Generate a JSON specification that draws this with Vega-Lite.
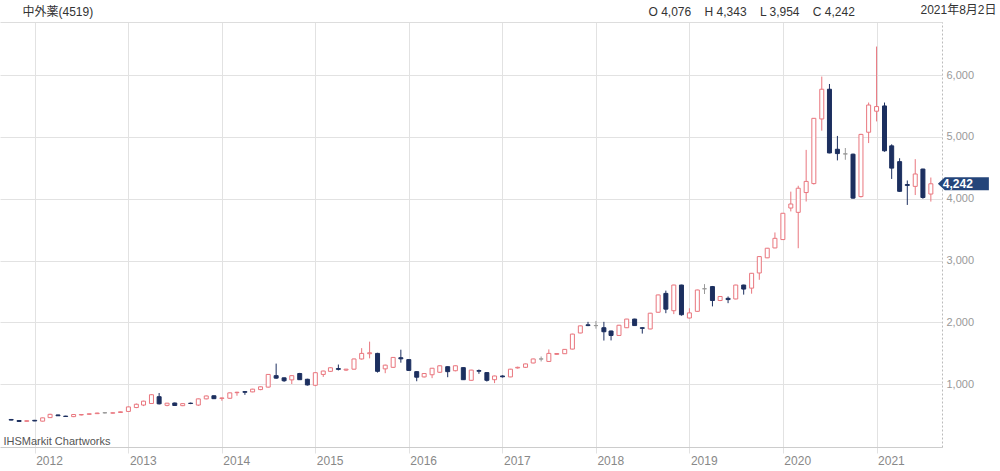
{
  "$schema": "https://vega.github.io/schema/vega-lite/v6.json",
  "width": 942,
  "height": 425,
  "autosize": {"type": "none"},
  "padding": {"left": 0, "top": 22, "right": 58, "bottom": 24},
  "background": "#ffffff",
  "config": {
    "view": {"stroke": null},
    "font": "Liberation Sans, Noto Sans CJK JP, sans-serif"
  },
  "data": {
    "values": [
      {"date": "2011-10-01", "open": 432, "high": 440, "low": 418, "close": 422},
      {"date": "2011-11-01", "open": 415, "high": 420, "low": 395, "close": 400},
      {"date": "2011-12-01", "open": 402, "high": 415, "low": 398, "close": 412},
      {"date": "2012-01-01", "open": 418, "high": 425, "low": 405, "close": 408},
      {"date": "2012-02-01", "open": 405, "high": 462, "low": 400, "close": 458},
      {"date": "2012-03-01", "open": 462, "high": 525, "low": 455, "close": 515},
      {"date": "2012-04-01", "open": 505, "high": 510, "low": 488, "close": 492},
      {"date": "2012-05-01", "open": 486, "high": 492, "low": 474, "close": 480},
      {"date": "2012-06-01", "open": 478, "high": 518, "low": 470, "close": 512},
      {"date": "2012-07-01", "open": 505, "high": 515, "low": 498, "close": 512},
      {"date": "2012-08-01", "open": 515, "high": 528, "low": 510, "close": 524},
      {"date": "2012-09-01", "open": 526, "high": 540, "low": 520, "close": 536},
      {"date": "2012-10-01", "open": 540, "high": 552, "low": 528, "close": 540},
      {"date": "2012-11-01", "open": 534, "high": 545, "low": 528, "close": 540},
      {"date": "2012-12-01", "open": 545, "high": 560, "low": 540, "close": 556},
      {"date": "2013-01-01", "open": 562, "high": 640, "low": 558, "close": 635},
      {"date": "2013-02-01", "open": 625, "high": 690, "low": 615, "close": 678},
      {"date": "2013-03-01", "open": 665, "high": 735, "low": 648, "close": 728},
      {"date": "2013-04-01", "open": 690, "high": 840, "low": 685, "close": 832},
      {"date": "2013-05-01", "open": 800, "high": 860, "low": 675, "close": 685},
      {"date": "2013-06-01", "open": 660, "high": 700, "low": 645, "close": 695},
      {"date": "2013-07-01", "open": 698, "high": 705, "low": 650, "close": 658},
      {"date": "2013-08-01", "open": 655, "high": 695, "low": 648, "close": 688},
      {"date": "2013-09-01", "open": 695, "high": 705, "low": 680, "close": 690},
      {"date": "2013-10-01", "open": 665, "high": 770, "low": 650, "close": 765},
      {"date": "2013-11-01", "open": 765, "high": 818, "low": 758, "close": 812},
      {"date": "2013-12-01", "open": 815, "high": 820, "low": 762, "close": 768},
      {"date": "2014-01-01", "open": 772, "high": 785, "low": 735, "close": 780},
      {"date": "2014-02-01", "open": 775, "high": 868, "low": 765, "close": 862},
      {"date": "2014-03-01", "open": 865, "high": 880, "low": 815, "close": 872},
      {"date": "2014-04-01", "open": 882, "high": 888, "low": 830, "close": 872},
      {"date": "2014-05-01", "open": 878, "high": 928, "low": 872, "close": 922},
      {"date": "2014-06-01", "open": 915, "high": 965, "low": 905, "close": 960},
      {"date": "2014-07-01", "open": 955, "high": 1165, "low": 948, "close": 1160},
      {"date": "2014-08-01", "open": 1140, "high": 1335, "low": 1090, "close": 1100},
      {"date": "2014-09-01", "open": 1105, "high": 1110, "low": 1040, "close": 1058},
      {"date": "2014-10-01", "open": 1072, "high": 1145, "low": 1005, "close": 1140},
      {"date": "2014-11-01", "open": 1175, "high": 1185, "low": 1070, "close": 1075},
      {"date": "2014-12-01", "open": 1082, "high": 1090, "low": 980, "close": 990},
      {"date": "2015-01-01", "open": 985, "high": 1195, "low": 970, "close": 1188},
      {"date": "2015-02-01", "open": 1160, "high": 1220, "low": 1120, "close": 1215},
      {"date": "2015-03-01", "open": 1210, "high": 1275, "low": 1200, "close": 1268},
      {"date": "2015-04-01", "open": 1255, "high": 1320, "low": 1225, "close": 1242},
      {"date": "2015-05-01", "open": 1230, "high": 1250, "low": 1215, "close": 1245},
      {"date": "2015-06-01", "open": 1245, "high": 1415, "low": 1240, "close": 1410},
      {"date": "2015-07-01", "open": 1410, "high": 1585, "low": 1400, "close": 1500},
      {"date": "2015-08-01", "open": 1495, "high": 1690, "low": 1420, "close": 1510},
      {"date": "2015-09-01", "open": 1500, "high": 1510, "low": 1190, "close": 1210},
      {"date": "2015-10-01", "open": 1250, "high": 1318, "low": 1180, "close": 1310},
      {"date": "2015-11-01", "open": 1275, "high": 1440, "low": 1265, "close": 1435},
      {"date": "2015-12-01", "open": 1430, "high": 1560, "low": 1350, "close": 1412},
      {"date": "2016-01-01", "open": 1400, "high": 1405, "low": 1220, "close": 1225},
      {"date": "2016-02-01", "open": 1205, "high": 1210, "low": 1050, "close": 1115},
      {"date": "2016-03-01", "open": 1120, "high": 1180, "low": 1110, "close": 1175},
      {"date": "2016-04-01", "open": 1155, "high": 1265, "low": 1100, "close": 1260},
      {"date": "2016-05-01", "open": 1195, "high": 1305, "low": 1185, "close": 1300},
      {"date": "2016-06-01", "open": 1285, "high": 1290, "low": 1115, "close": 1205},
      {"date": "2016-07-01", "open": 1220, "high": 1305, "low": 1210, "close": 1300},
      {"date": "2016-08-01", "open": 1270, "high": 1275, "low": 1070, "close": 1075},
      {"date": "2016-09-01", "open": 1065, "high": 1235, "low": 1060, "close": 1230},
      {"date": "2016-10-01", "open": 1222, "high": 1240, "low": 1170, "close": 1212},
      {"date": "2016-11-01", "open": 1190, "high": 1195, "low": 1045, "close": 1065},
      {"date": "2016-12-01", "open": 1075, "high": 1140, "low": 1020, "close": 1135},
      {"date": "2017-01-01", "open": 1135, "high": 1145, "low": 1110, "close": 1122},
      {"date": "2017-02-01", "open": 1120, "high": 1250, "low": 1115, "close": 1245},
      {"date": "2017-03-01", "open": 1265, "high": 1285, "low": 1255, "close": 1275},
      {"date": "2017-04-01", "open": 1275, "high": 1335, "low": 1265, "close": 1330},
      {"date": "2017-05-01", "open": 1345, "high": 1415, "low": 1340, "close": 1410},
      {"date": "2017-06-01", "open": 1410, "high": 1450, "low": 1370, "close": 1410},
      {"date": "2017-07-01", "open": 1370, "high": 1565, "low": 1365, "close": 1500},
      {"date": "2017-08-01", "open": 1485, "high": 1505, "low": 1478, "close": 1498},
      {"date": "2017-09-01", "open": 1495, "high": 1570, "low": 1490, "close": 1565},
      {"date": "2017-10-01", "open": 1570, "high": 1818, "low": 1565, "close": 1812},
      {"date": "2017-11-01", "open": 1830, "high": 1950, "low": 1825, "close": 1945},
      {"date": "2017-12-01", "open": 1962, "high": 2010, "low": 1940, "close": 1950},
      {"date": "2018-01-01", "open": 1950, "high": 2025, "low": 1900, "close": 1950},
      {"date": "2018-02-01", "open": 1915, "high": 2010, "low": 1708, "close": 1850},
      {"date": "2018-03-01", "open": 1862, "high": 1868, "low": 1710, "close": 1790},
      {"date": "2018-04-01", "open": 1790, "high": 1962, "low": 1785, "close": 1955},
      {"date": "2018-05-01", "open": 1915, "high": 2058, "low": 1910, "close": 2055},
      {"date": "2018-06-01", "open": 2055, "high": 2060, "low": 1945, "close": 1950},
      {"date": "2018-07-01", "open": 1915, "high": 1920, "low": 1820, "close": 1905},
      {"date": "2018-08-01", "open": 1895, "high": 2155, "low": 1890, "close": 2150},
      {"date": "2018-09-01", "open": 2165, "high": 2450, "low": 2160, "close": 2445},
      {"date": "2018-10-01", "open": 2470, "high": 2515, "low": 2150, "close": 2215},
      {"date": "2018-11-01", "open": 2190, "high": 2610, "low": 2135, "close": 2605},
      {"date": "2018-12-01", "open": 2605, "high": 2610, "low": 2110, "close": 2125},
      {"date": "2019-01-01", "open": 2072, "high": 2230, "low": 2065, "close": 2155},
      {"date": "2019-02-01", "open": 2180, "high": 2530, "low": 2175, "close": 2525},
      {"date": "2019-03-01", "open": 2545, "high": 2620, "low": 2460, "close": 2545},
      {"date": "2019-04-01", "open": 2580, "high": 2590, "low": 2260, "close": 2355},
      {"date": "2019-05-01", "open": 2355, "high": 2425, "low": 2345, "close": 2420},
      {"date": "2019-06-01", "open": 2390, "high": 2420, "low": 2312, "close": 2370},
      {"date": "2019-07-01", "open": 2380, "high": 2610, "low": 2375, "close": 2605},
      {"date": "2019-08-01", "open": 2605, "high": 2610, "low": 2450, "close": 2540},
      {"date": "2019-09-01", "open": 2555, "high": 2800, "low": 2465, "close": 2795},
      {"date": "2019-10-01", "open": 2800, "high": 3070, "low": 2690, "close": 3065},
      {"date": "2019-11-01", "open": 3045, "high": 3205, "low": 3040, "close": 3200},
      {"date": "2019-12-01", "open": 3205, "high": 3455, "low": 3200, "close": 3360},
      {"date": "2020-01-01", "open": 3340, "high": 3770, "low": 3335, "close": 3765},
      {"date": "2020-02-01", "open": 3850, "high": 4115, "low": 3795, "close": 3915},
      {"date": "2020-03-01", "open": 3780, "high": 4210, "low": 3200, "close": 4170},
      {"date": "2020-04-01", "open": 4100, "high": 4790, "low": 3955, "close": 4280},
      {"date": "2020-05-01", "open": 4245, "high": 5305, "low": 4230, "close": 5300},
      {"date": "2020-06-01", "open": 5290, "high": 5975, "low": 5100, "close": 5770},
      {"date": "2020-07-01", "open": 5770, "high": 5855, "low": 4735, "close": 4740},
      {"date": "2020-08-01", "open": 4800, "high": 5015, "low": 4620, "close": 4730},
      {"date": "2020-09-01", "open": 4725, "high": 4820, "low": 4630, "close": 4725},
      {"date": "2020-10-01", "open": 4720, "high": 4730, "low": 4000, "close": 4010},
      {"date": "2020-11-01", "open": 4035, "high": 5050, "low": 4020, "close": 5040},
      {"date": "2020-12-01", "open": 5075, "high": 5555, "low": 4900, "close": 5515},
      {"date": "2021-01-01", "open": 5415, "high": 6460, "low": 5250, "close": 5490},
      {"date": "2021-02-01", "open": 5500, "high": 5555, "low": 4760, "close": 4775},
      {"date": "2021-03-01", "open": 4855, "high": 4880, "low": 4320, "close": 4495},
      {"date": "2021-04-01", "open": 4600, "high": 4655, "low": 4110, "close": 4120},
      {"date": "2021-05-01", "open": 4230, "high": 4295, "low": 3900, "close": 4215},
      {"date": "2021-06-01", "open": 4200, "high": 4640, "low": 4060, "close": 4400},
      {"date": "2021-07-01", "open": 4480, "high": 4485, "low": 4000, "close": 4020},
      {"date": "2021-08-01", "open": 4076, "high": 4343, "low": 3954, "close": 4242}
    ]
  },
  "resolve": {"axis": {"x": "independent", "y": "independent"}},
  "layer": [
    {
      "mark": {"type": "rule", "strokeWidth": 1},
      "encoding": {
        "x": {
          "field": "date",
          "type": "temporal",
          "scale": {
            "type": "utc",
            "domain": [
              {"year": 2011, "month": 9, "date": 7, "utc": true},
              {"year": 2021, "month": 8, "date": 25, "utc": true}
            ]
          },
          "axis": {
            "orient": "bottom",
            "format": "%Y",
            "tickCount": {"interval": "year", "step": 1},
            "labelAlign": "left",
            "labelOffset": 1,
            "labelPadding": 2,
            "labelFlush": false,
            "labelOverlap": false,
            "labelColor": "#888888",
            "labelFontSize": 12,
            "grid": true,
            "gridColor": "#e2e2e2",
            "gridWidth": 1,
            "ticks": true,
            "tickSize": 6,
            "tickColor": "#e2e2e2",
            "domainColor": "#cccccc",
            "title": "IHSMarkit Chartworks",
            "titleX": 3,
            "titleY": -1,
            "titleAlign": "left",
            "titleBaseline": "bottom",
            "titleAngle": 0,
            "titleFontSize": 11,
            "titleFontWeight": "normal",
            "titleColor": "#555555"
          }
        },
        "y": {
          "field": "low",
          "type": "quantitative",
          "scale": {"domain": [-13, 6857], "nice": false, "zero": false},
          "axis": {
            "orient": "right",
            "values": [1000, 2000, 3000, 4000, 5000, 6000],
            "format": ",.0f",
            "ticks": false,
            "labelPadding": 4,
            "labelColor": "#999999",
            "labelFontSize": 11,
            "grid": true,
            "gridColor": "#e2e2e2",
            "domainColor": "#bbbbbb",
            "domainDash": [2, 2],
            "title": "2021年8月2日",
            "titleX": -22,
            "titleY": -13,
            "titleAngle": 0,
            "titleAlign": "left",
            "titleBaseline": "middle",
            "titleFontSize": 12,
            "titleFontWeight": "normal",
            "titleColor": "#333333"
          }
        },
        "y2": {"field": "high"},
        "color": {
          "condition": [
            {"test": "datum.close > datum.open", "value": "#e9767e"},
            {"test": "datum.close < datum.open", "value": "#1c2f5f"}
          ],
          "value": "#999999"
        }
      }
    },
    {
      "mark": {"type": "bar", "size": 4, "strokeWidth": 1},
      "encoding": {
        "x": {
          "field": "date",
          "type": "temporal",
          "axis": {
            "orient": "top",
            "labels": false,
            "ticks": false,
            "grid": false,
            "domainColor": "#dddddd",
            "title": "中外薬(4519)",
            "titleX": 22,
            "titleY": -11,
            "titleAngle": 0,
            "titleAlign": "left",
            "titleBaseline": "middle",
            "titleFontSize": 12,
            "titleFontWeight": "normal",
            "titleColor": "#333333"
          }
        },
        "y": {
          "field": "open",
          "type": "quantitative",
          "axis": {
            "orient": "left",
            "labels": false,
            "ticks": false,
            "grid": false,
            "domain": false,
            "title": "O 4,076\u00a0\u00a0\u00a0\u00a0H 4,343\u00a0\u00a0\u00a0\u00a0L 3,954\u00a0\u00a0\u00a0\u00a0C 4,242",
            "titleX": 648,
            "titleY": -11,
            "titleAngle": 0,
            "titleAlign": "left",
            "titleBaseline": "middle",
            "titleFontSize": 12,
            "titleFontWeight": "normal",
            "titleColor": "#333333"
          }
        },
        "y2": {"field": "close"},
        "fill": {
          "condition": [
            {"test": "datum.close > datum.open", "value": "#ffffff"},
            {"test": "datum.close < datum.open", "value": "#1c2f5f"}
          ],
          "value": "#999999"
        },
        "stroke": {
          "condition": [
            {"test": "datum.close > datum.open", "value": "#e9767e"},
            {"test": "datum.close < datum.open", "value": "#1c2f5f"}
          ],
          "value": "#999999"
        }
      }
    },
    {
      "transform": [{"filter": {"field": "date", "timeUnit": "utcyearmonth", "equal": {"year": 2021, "month": 8, "utc": true}}}],
      "mark": {
        "type": "point",
        "shape": "M0.14,0L0.28,-0.13L1.16,-0.13L1.16,0.13L0.28,0.13Z",
        "size": 10000,
        "filled": true,
        "fill": "#24457a",
        "opacity": 1,
        "strokeWidth": 0
      },
      "encoding": {
        "x": {"field": "date", "type": "temporal", "axis": null},
        "y": {"field": "close", "type": "quantitative", "axis": null}
      }
    },
    {
      "transform": [{"filter": {"field": "date", "timeUnit": "utcyearmonth", "equal": {"year": 2021, "month": 8, "utc": true}}}],
      "mark": {
        "type": "text",
        "align": "left",
        "baseline": "middle",
        "dx": 12,
        "fontSize": 12,
        "fontWeight": "bold",
        "fill": "#ffffff"
      },
      "encoding": {
        "x": {"field": "date", "type": "temporal", "axis": null},
        "y": {"field": "close", "type": "quantitative", "axis": null},
        "text": {"field": "close", "type": "quantitative", "format": ","}
      }
    }
  ]
}
